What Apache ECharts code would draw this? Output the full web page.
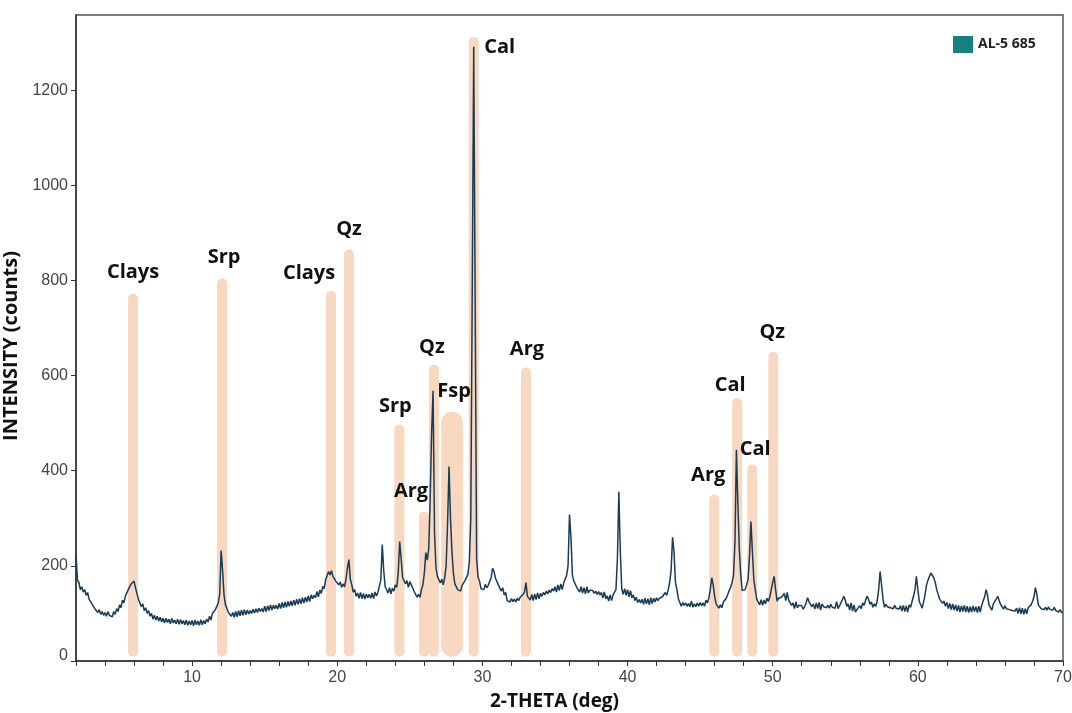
<!DOCTYPE html>
<html>
<head>
<meta charset="utf-8">
<title>AL-5 685 XRD pattern</title>
<script src="https://cdn.jsdelivr.net/npm/echarts@6/dist/echarts.min.js"></script>
<style>
  html, body { margin: 0; padding: 0; background: #ffffff; }
  #chart { width: 1072px; height: 713px; }
</style>
</head>
<body>
<div id="chart"></div>
<script>
// Diffractogram of sample AL-5 685, 2-theta from 2 to 70 deg, 0.1 deg step
const sampleName = 'AL-5 685';
const scanStart = 2;
const scanStep = 0.1;
const counts = [
  224, 170, 165, 150, 156, 145, 150, 138, 144, 130,   // 2
  134, 120, 124, 110, 114, 102, 108, 98, 104, 96,     // 3
  102, 94, 104, 96, 100, 93, 104, 98, 110, 104,       // 4
  118, 112, 128, 122, 136, 134, 150, 146, 162, 158,   // 5
  168, 154, 150, 130, 128, 114, 120, 106, 112, 100,   // 6
  106, 94, 100, 88, 96, 86, 94, 84, 92, 82,           // 7
  90, 80, 90, 81, 88, 78, 90, 80, 86, 78,             // 8
  88, 77, 87, 78, 85, 76, 86, 75, 84, 76,             // 9
  85, 74, 86, 76, 84, 75, 87, 76, 85, 78,             // 10
  88, 82, 94, 86, 100, 96, 108, 104, 122, 140,        // 11
  232, 190, 138, 118, 114, 102, 106, 94, 102, 92,     // 12
  104, 93, 106, 95, 107, 96, 108, 97, 107, 99,        // 13
  106, 100, 109, 101, 110, 102, 111, 104, 110, 103,   // 14
  115, 104, 116, 106, 118, 107, 117, 110, 117, 109,   // 15
  121, 110, 123, 112, 124, 113, 125, 115, 126, 116,   // 16
  128, 117, 130, 119, 131, 120, 133, 122, 134, 124,   // 17
  137, 125, 139, 131, 138, 133, 146, 135, 149, 142,   // 18
  157, 152, 171, 169, 188, 181, 190, 178, 182, 168,   // 19
  172, 160, 166, 155, 162, 156, 172, 195, 213, 172,   // 20
  160, 145, 150, 136, 143, 132, 144, 131, 142, 130,   // 21
  141, 133, 140, 132, 143, 131, 145, 137, 144, 142,   // 22
  170, 245, 190, 156, 156, 143, 154, 141, 153, 147,   // 23
  160, 155, 185, 251, 215, 176, 176, 162, 169, 155,   // 24
  167, 160, 162, 146, 149, 134, 140, 134, 150, 160,   // 25
  185, 228, 212, 235, 340, 480, 568, 270, 196, 178,   // 26
  179, 164, 172, 160, 175, 200, 290, 409, 300, 230,   // 27
  185, 162, 164, 150, 154, 147, 159, 155, 169, 168,   // 28
  182, 210, 300, 780, 1291, 760, 215, 176, 168, 152,  // 29
  156, 150, 161, 154, 159, 158, 175, 195, 188, 174,   // 30
  174, 160, 162, 147, 154, 139, 144, 127, 129, 124,   // 31
  131, 125, 130, 124, 132, 127, 134, 130, 140, 145,   // 32
  165, 136, 134, 128, 140, 127, 141, 129, 143, 131,   // 33
  142, 136, 144, 139, 147, 141, 149, 144, 152, 147,   // 34
  156, 145, 160, 148, 162, 150, 164, 168, 180, 200,   // 35
  308, 260, 180, 168, 169, 155, 159, 145, 156, 143,   // 36
  154, 141, 156, 143, 149, 145, 148, 142, 147, 140,   // 37
  146, 139, 144, 133, 145, 131, 137, 126, 139, 127,   // 38
  139, 135, 150, 215, 356, 230, 152, 140, 152, 138,   // 39
  150, 135, 148, 133, 139, 127, 134, 123, 129, 122,   // 40
  130, 119, 132, 120, 131, 118, 133, 121, 132, 124,   // 41
  133, 127, 132, 129, 135, 131, 144, 138, 150, 165,   // 42
  190, 260, 230, 165, 150, 131, 128, 115, 123, 117,   // 43
  122, 115, 121, 114, 126, 113, 120, 114, 122, 115,   // 44
  123, 116, 122, 115, 128, 122, 132, 150, 175, 160,   // 45
  136, 120, 122, 111, 118, 112, 124, 120, 132, 140,   // 46
  148, 155, 165, 180, 250, 444, 330, 234, 180, 148,   // 47
  145, 150, 160, 171, 220, 293, 230, 171, 150, 130,   // 48
  132, 118, 129, 117, 128, 120, 132, 125, 135, 150,   // 49
  165, 178, 150, 126, 132, 128, 134, 130, 142, 127,   // 50
  144, 128, 132, 117, 122, 110, 124, 112, 117, 113,   // 51
  116, 109, 114, 122, 133, 125, 122, 114, 120, 109,   // 52
  122, 110, 123, 107, 120, 114, 118, 112, 117, 111,   // 53
  119, 113, 117, 111, 125, 110, 116, 122, 118, 136,   // 54
  128, 115, 120, 107, 122, 105, 118, 103, 108, 105,   // 55
  116, 110, 122, 117, 128, 136, 130, 119, 124, 113,   // 56
  120, 115, 126, 150, 188, 160, 130, 113, 119, 114,   // 57
  118, 112, 116, 110, 117, 111, 115, 109, 116, 105,   // 58
  117, 104, 116, 103, 118, 113, 125, 136, 150, 178,   // 59
  150, 125, 124, 111, 125, 140, 160, 170, 178, 185,   // 60
  182, 175, 165, 150, 146, 130, 134, 121, 126, 115,   // 61
  123, 110, 121, 108, 120, 107, 118, 105, 117, 103,   // 62
  116, 104, 117, 103, 115, 102, 114, 103, 116, 104,   // 63
  114, 102, 115, 103, 117, 120, 135, 150, 138, 118,   // 64
  118, 107, 120, 122, 130, 136, 140, 119, 121, 109,   // 65
  116, 110, 114, 108, 112, 106, 110, 105, 111, 100,   // 66
  112, 99, 111, 98, 110, 99, 112, 112, 118, 125,      // 67
  135, 154, 140, 118, 116, 110, 114, 108, 113, 107,   // 68
  114, 108, 112, 107, 113, 106, 110, 103, 108, 102,   // 69
  102                                                 // 70
];

// Phase identification bands: label, 2-theta position, band height (counts), 2-theta span
const phaseLabels = ['Clays', 'Srp', 'Clays', 'Qz', 'Srp', 'Arg', 'Qz', 'Fsp', 'Cal', 'Arg', 'Arg', 'Cal', 'Cal', 'Qz'];
const phasePos    = [5.93, 12.06, 19.57, 20.81, 24.28, 25.98, 26.66, 27.91, 29.40, 33.0, 45.97, 47.55, 48.59, 50.04];
const phaseTop    = [772, 804, 778, 865, 497, 314, 623, 524, 1312, 617, 350, 553, 413, 650];
const phaseSpan   = [0, 0, 0, 0, 0, 0, 0, 1.5, 0, 0, 0, 0, 0, 0];

// Axis ticks
const xTickValues = [2, 4, 6, 8, 10, 12, 14, 16, 18, 20, 22, 24, 26, 28, 30, 32, 34, 36, 38, 40,
                     42, 44, 46, 48, 50, 52, 54, 56, 58, 60, 62, 64, 66, 68, 70];
const xLabelValues = [10, 20, 30, 40, 50, 60, 70];
const yTickValues = [0, 200, 400, 600, 800, 1000, 1200];

// Layout: label offset (px) from the top centre of each band
const labelNudge = [[0, -21], [2, -21], [-22, -18], [0, -20], [-4, -18], [-13, -20], [-2, -17],
                    [2, -20], [26, 10], [1, -18], [-6, -19], [-7, -13], [3, -15], [-1, -19]];
const BAND_FLOOR = 9;
const BAND_WIDTH_PX = 10;

const pattern = counts.map((c, i) => [+(scanStart + i * scanStep).toFixed(2), c]);
const bands = phasePos.map((p, i) => [p, phaseTop[i], phaseSpan[i]]);

const chart = echarts.init(document.getElementById('chart'), null, { renderer: 'canvas' });

const option = {
  animation: false,
  backgroundColor: '#ffffff',
  grid: {
    left: 76, right: 9, top: 15, bottom: 52,
    outerBoundsMode: 'none',
    containLabel: false,
    show: true, borderColor: '#555', borderWidth: 1.5, backgroundColor: 'transparent'
  },
  legend: {
    left: 948, top: 31,
    icon: 'rect', itemWidth: 20, itemHeight: 17, itemGap: 6,
    selectedMode: false,
    textStyle: { fontFamily: 'Open Sans', fontWeight: 'bold', fontSize: 14, color: '#222' },
    data: [{ name: sampleName, itemStyle: { color: '#16807f' } }]
  },
  xAxis: {
    type: 'value', min: 2, max: 70,
    name: '2-THETA (deg)', nameLocation: 'middle', nameGap: 31,
    nameTextStyle: { fontFamily: 'Open Sans', fontWeight: 'bold', fontSize: 19, color: '#111', padding: [0, 30, 0, 0] },
    axisLine: { show: true, onZero: false, lineStyle: { color: '#333', width: 1.5 } },
    axisTick: { show: true, length: 5, customValues: xTickValues, lineStyle: { color: '#333' } },
    axisLabel: { customValues: xLabelValues, fontFamily: 'Liberation Sans', fontSize: 16, color: '#444', margin: 9 },
    splitLine: { show: false }
  },
  yAxis: {
    type: 'value', min: 0, max: 1358,
    name: 'INTENSITY (counts)', nameLocation: 'middle', nameGap: 46,
    nameTextStyle: { fontFamily: 'Open Sans', fontWeight: 'bold', fontSize: 20, color: '#111', padding: [0, 16, 0, 0] },
    axisLine: { show: true, lineStyle: { color: '#333', width: 1.5 } },
    axisTick: { show: true, length: 5, customValues: yTickValues, lineStyle: { color: '#333' } },
    axisLabel: {
      customValues: yTickValues, fontFamily: 'Liberation Sans', fontSize: 16, color: '#444', margin: 8,
      formatter: v => (v === 0 ? '{zero|0}' : String(v)),
      rich: { zero: { fontFamily: 'Liberation Sans', fontSize: 16, color: '#444', padding: [0, 0, 10, 0] } }
    },
    splitLine: { show: false }
  },
  series: [
    {
      name: 'phases',
      type: 'custom',
      z: 1,
      silent: true,
      data: bands,
      encode: { x: 0, y: 1 },
      renderItem: function (params, api) {
        const x = api.value(0);
        const top = api.value(1);
        const span = api.value(2);
        const pTop = api.coord([x, top]);
        const pBot = api.coord([x, BAND_FLOOR]);
        const w = span > 0 ? api.size([span, 0])[0] : BAND_WIDTH_PX;
        const nudge = labelNudge[params.dataIndex];
        return {
          type: 'group',
          children: [
            {
              type: 'rect',
              shape: { x: pTop[0] - w / 2, y: pTop[1], width: w, height: pBot[1] - pTop[1], r: w / 2 },
              style: { fill: 'rgba(244,188,148,0.58)' }
            },
            {
              type: 'text',
              z2: 10,
              x: pTop[0] + nudge[0],
              y: pTop[1] + nudge[1],
              style: {
                text: phaseLabels[params.dataIndex],
                fontFamily: 'Open Sans', fontWeight: 'bold', fontSize: 20,
                fill: '#111', align: 'center', verticalAlign: 'middle'
              }
            }
          ]
        };
      }
    },
    {
      name: sampleName,
      type: 'line',
      z: 2,
      data: pattern,
      showSymbol: false,
      sampling: 'none',
      lineStyle: { color: '#183c55', width: 1.5 },
      itemStyle: { color: '#183c55' }
    }
  ]
};

chart.setOption(option);
</script>
</body>
</html>
